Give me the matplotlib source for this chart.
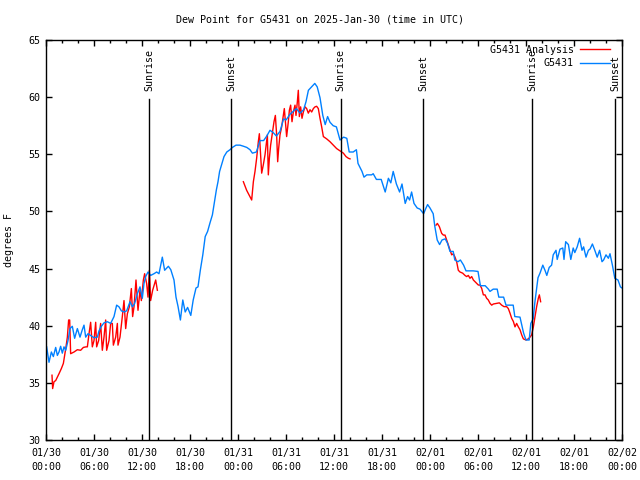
import numpy as np
import matplotlib
matplotlib.use("Agg")
import matplotlib.pyplot as plt

# Hours since 2025-01-30 00:00 UTC
station_hours = [
    0.08, 0.375, 0.67, 0.92, 1.21, 1.42, 1.625, 1.83, 2.04, 2.25, 2.46, 2.75, 3.0, 3.29,
    3.58, 3.92, 4.25, 4.54, 4.75, 4.96, 5.25, 5.58, 6.0, 6.42, 6.625, 6.92, 7.25, 7.67,
    8.08, 8.5, 8.83, 9.125, 9.42, 9.75, 10.08, 10.5, 10.8, 11.08, 11.42, 11.75, 12.04,
    12.25, 12.46, 12.75, 13.08, 13.5, 13.83, 14.125, 14.54, 14.83, 15.3, 15.6,
    16.0, 16.25, 16.5, 16.8, 17.1, 17.4, 17.7, 18.1, 18.4, 18.75, 19.0, 19.3, 19.6, 19.9,
    20.2, 20.5, 20.8, 21.0, 21.3, 21.5, 21.7, 21.96, 22.25, 22.6, 23.0, 23.3, 23.75,
    24.25, 24.7, 25.1, 25.5, 25.8, 26.3, 26.75, 27.2, 27.6, 28.0, 28.4, 28.8, 29.25,
    29.7, 30.0, 30.5, 30.9, 31.3, 31.75, 32.2, 32.5, 32.8, 33.2, 33.6, 33.9, 34.25,
    34.6, 34.9, 35.2, 35.5, 35.9, 36.3, 36.75, 37.2, 37.6, 37.9, 38.4, 38.8, 39.0,
    39.5, 39.75, 40.1, 40.7, 40.9, 41.3, 41.9, 42.4, 42.8, 43.1, 43.4, 43.8, 44.2,
    44.5, 44.9, 45.2, 45.45, 45.7, 46.0, 46.4, 46.75, 47.2, 47.5, 47.7, 48.0, 48.4,
    48.6, 48.9, 49.2, 49.5, 49.9, 50.2, 50.5, 50.9, 51.1, 51.5, 51.8, 52.2, 52.5,
    53.4, 54.0, 54.3, 54.9, 55.3, 55.5, 55.9, 56.4, 56.6, 57.2, 57.5, 58.4, 58.6,
    59.25, 59.7, 60.0, 60.4, 60.6, 60.9, 61.1, 61.3, 61.5, 61.75, 62.1, 62.4, 62.6,
    62.9, 63.2, 63.4, 63.75, 63.9, 64.25, 64.6, 64.75, 64.96, 65.3, 65.6, 65.9, 66.1,
    66.4, 66.7, 67.0, 67.2, 67.5, 67.8, 68.0, 68.3, 68.6, 68.9, 69.2, 69.5, 69.7,
    70.0, 70.3, 70.5, 70.8, 71.1, 71.5, 71.8, 72.0,
]
station_dew = [
    38.15, 36.8, 37.7, 37.3, 38.1, 37.4, 37.7, 38.2, 37.6, 38.15, 37.85, 38.7, 39.75, 39.95,
    38.9, 39.75, 39.0, 39.65, 40.05, 39.0, 39.3, 39.15, 38.95, 39.0, 39.55, 39.95, 40.25, 40.35,
    40.2, 40.8, 41.8, 41.65, 41.3, 41.2, 41.3, 42.1, 41.65, 41.95, 42.8, 43.4, 42.4,
    43.7, 44.3, 44.7, 44.4, 44.55, 44.7, 44.55, 46.0, 44.85, 45.2, 44.9,
    44.0, 42.5, 41.7, 40.5, 42.25, 41.2, 41.6, 40.9, 42.25, 43.3, 43.4, 44.9, 46.2, 47.8,
    48.25, 49.0, 49.7, 50.6, 51.9, 52.6, 53.5, 54.1, 54.8, 55.2, 55.4, 55.6, 55.8,
    55.8, 55.7, 55.6, 55.4, 55.1, 55.2, 56.2, 56.2, 56.6, 57.1, 56.9, 56.6, 57.0,
    58.1, 58.0, 58.5, 58.75, 59.0, 58.6, 58.9, 59.6, 60.6, 60.9, 61.2, 60.9, 59.95,
    58.4, 57.6, 58.3, 57.8, 57.5, 57.4, 56.25, 56.5, 56.4, 55.2, 55.2, 55.4, 54.2,
    53.5, 53.0, 53.2, 53.2, 53.3, 52.8, 52.8, 51.7, 52.9, 52.5, 53.5, 52.4, 51.7,
    52.4, 50.7, 51.3, 51.0, 51.7, 50.7, 50.3, 50.2, 49.8, 50.3, 50.6, 50.3, 49.8,
    48.7, 47.5, 47.1, 47.5, 47.6, 47.2, 46.5, 46.5, 45.75, 45.6, 45.75, 45.3, 44.8,
    44.8, 44.75, 43.5, 43.5, 43.2, 43.0, 43.2, 43.2, 42.5, 42.5, 41.8, 41.8, 40.8,
    40.75, 39.35, 38.75, 38.75, 40.2, 40.6, 42.0, 43.1, 44.2, 44.6, 45.3, 44.8, 44.4,
    45.1, 45.3, 46.2, 46.6, 45.8, 46.7, 46.8, 45.8, 47.35, 47.1, 45.8, 46.8, 46.4,
    46.9, 47.65, 46.6, 46.9, 46.0, 46.6, 46.7, 47.15, 46.6, 46.0, 46.6, 45.6, 45.75,
    46.2, 45.9, 46.3, 45.3, 44.15, 44.0, 43.4, 43.3,
]

# Analysis series: three separate runs, NaN between them
analysis_hours = [
    0.75, 0.83, 1.0, 1.21, 1.42, 1.625, 1.92, 2.17, 2.33, 2.5, 2.67, 2.83, 2.96, 3.08,
    3.5, 3.92, 4.33, 4.67, 5.0, 5.17, 5.375, 5.58, 5.79, 6.0, 6.21, 6.33, 6.58, 6.83,
    7.04, 7.25, 7.46, 7.58, 7.875, 8.08, 8.29, 8.42, 8.71, 8.92, 9.0, 9.25, 9.54, 9.75,
    9.96, 10.17, 10.42, 10.67, 10.83, 11.0, 11.25, 11.5, 11.75, 11.92, 12.17, 12.33,
    12.58, 12.75, 12.92, 13.08, 13.33, 13.71, 13.92,
    np.nan,
    24.67, 25.08, 25.42, 25.71, 25.92, 26.125, 26.33, 26.54, 26.67, 26.83, 26.96, 27.17,
    27.375, 27.5, 27.67, 27.79, 27.92, 28.08, 28.33, 28.5, 28.67, 28.83, 28.96, 29.08,
    29.25, 29.46, 29.67, 29.79, 29.92, 30.08, 30.29, 30.42, 30.58, 30.75, 30.92, 31.125,
    31.25, 31.42, 31.54, 31.67, 31.83, 32.0, 32.17, 32.375, 32.58, 32.79, 33.0, 33.21,
    33.42, 33.625, 33.83, 34.04, 34.25, 34.46, 34.67, 35.08, 35.5, 35.92, 36.33, 36.75,
    37.17, 37.5, 37.8, 38.0,
    np.nan,
    48.75, 48.92, 49.17, 49.46, 49.67, 49.875, 50.08, 50.29, 50.5, 50.71, 50.92, 51.125,
    51.33, 51.54, 51.75, 52.08, 52.375, 52.58, 52.79, 53.0, 53.21, 53.42, 53.625, 53.83,
    54.04, 54.25, 54.46, 54.67, 54.875, 55.08, 55.29, 55.5, 55.71, 55.92, 56.33, 56.67,
    56.96, 57.25, 57.58, 57.79, 58.0, 58.21, 58.42, 58.625, 58.83, 59.04, 59.25, 59.46,
    59.67, 60.0, 60.29, 60.5, 60.71, 60.92, 61.125, 61.33, 61.54, 61.67, 61.83,
]
analysis_dew = [
    35.67, 34.5, 35.1, 35.2, 35.5, 35.8, 36.25, 36.7, 37.4, 38.15, 39.0, 40.5, 40.5, 37.55,
    37.7, 37.9, 37.85, 38.1, 38.15, 38.15, 39.3, 40.3, 38.15, 38.7, 40.3, 38.15, 38.7, 40.2,
    37.85, 39.0, 40.5, 37.85, 38.7, 40.2, 40.2, 38.3, 39.0, 40.2, 38.3, 39.0, 40.8, 42.2,
    39.75, 41.05, 41.65, 43.25, 40.8, 41.65, 44.0, 41.35, 43.1, 42.2, 44.0, 44.55,
    43.7, 42.5, 44.85, 42.2, 43.1, 44.0, 43.1,
    np.nan,
    52.6, 51.85, 51.4, 51.0, 52.6, 53.5, 54.65, 56.1, 56.8, 54.95, 53.35, 54.1,
    54.95, 55.7, 56.7, 53.2, 54.65, 55.8, 57.0, 57.85, 58.4, 56.7, 54.35, 55.5,
    56.7, 57.4, 58.4, 59.0, 57.85, 56.55, 57.85, 58.85, 59.3, 57.85, 58.7, 59.3,
    58.4, 59.6, 60.6, 58.3, 59.15, 58.15, 58.7, 59.15, 59.0, 58.6, 58.9, 58.7,
    59.0, 59.15, 59.2, 59.0, 58.15, 57.4, 56.55, 56.35, 56.1, 55.8, 55.5, 55.3,
    55.1, 54.8, 54.65, 54.6,
    np.nan,
    48.8, 48.95, 48.67, 48.08, 47.93, 47.93, 47.5, 47.06, 46.6, 46.2, 46.3, 46.0,
    45.6, 44.85, 44.7, 44.6, 44.4, 44.3, 44.4, 44.15, 44.3, 44.0, 43.85, 43.7,
    43.56, 43.56, 43.27, 42.7, 42.7, 42.4, 42.25, 41.96, 41.8, 41.9, 41.96, 42.0,
    41.8, 41.67, 41.67, 41.5, 41.1, 40.65, 40.37, 39.9, 40.2, 39.9, 39.65, 39.2,
    38.85, 38.75, 38.85, 39.0, 39.2, 39.9, 40.8, 41.67, 42.4, 42.7, 42.1,
]

sun_hours = [12.9, 23.15, 36.85, 47.15, 60.8, 71.15]
sun_labels = ["Sunrise", "Sunset", "Sunrise", "Sunset", "Sunrise", "Sunset"]

tick_hours = [0, 6, 12, 18, 24, 30, 36, 42, 48, 54, 60, 66, 72]
tick_labels = ["01/30\n00:00", "01/30\n06:00", "01/30\n12:00", "01/30\n18:00",
               "01/31\n00:00", "01/31\n06:00", "01/31\n12:00", "01/31\n18:00",
               "02/01\n00:00", "02/01\n06:00", "02/01\n12:00", "02/01\n18:00",
               "02/02\n00:00"]

plt.rcParams['font.family'] = ['DejaVu Sans Mono']
plt.rcParams['font.size'] = 7.2

fig = plt.figure(figsize=(6.4, 4.8), dpi=100)
ax = fig.add_axes([46 / 640, 40 / 480, 576 / 640, 400 / 480])

ax.plot(analysis_hours, analysis_dew, color='#ff0000', lw=1.0, label='G5431 Analysis')
ax.plot(station_hours, station_dew, color='#0080ff', lw=1.0, label='G5431')

# sunrise / sunset markers
for h, lab in zip(sun_hours, sun_labels):
    ax.plot([h, h], [30, 59.8], color='black', lw=1.0)
    ax.text(h, 60.5, lab, rotation=90, ha='center', va='bottom')

ax.set_xlim(0, 72)
ax.set_ylim(30, 65)
ax.set_xticks(tick_hours)
ax.set_xticklabels(tick_labels, linespacing=1.4)
ax.set_xticks(np.arange(0, 73, 2), minor=True)
ax.set_yticks(np.arange(30, 66, 5))
ax.tick_params(which='both', direction='in', top=True, right=True, width=1.0)
ax.tick_params(which='major', length=4, pad=4)
ax.tick_params(which='minor', length=2.5)
ax.tick_params(axis='x', which='major', pad=6)
for s in ax.spines.values():
    s.set_linewidth(1.0)

ax.set_ylabel('degrees F')
ax.yaxis.set_label_coords(-32 / 576, 0.5)
fig.text(0.5, 1 - 19 / 480, 'Dew Point for G5431 on 2025-Jan-30 (time in UTC)',
         ha='center', va='center')

ax.legend(loc='upper right', bbox_to_anchor=(0.986, 0.9975), frameon=False,
          markerfirst=False, handlelength=3.0, borderaxespad=0.0,
          handletextpad=0.6, labelspacing=0.35)

fig.savefig('out.png', dpi=100)
